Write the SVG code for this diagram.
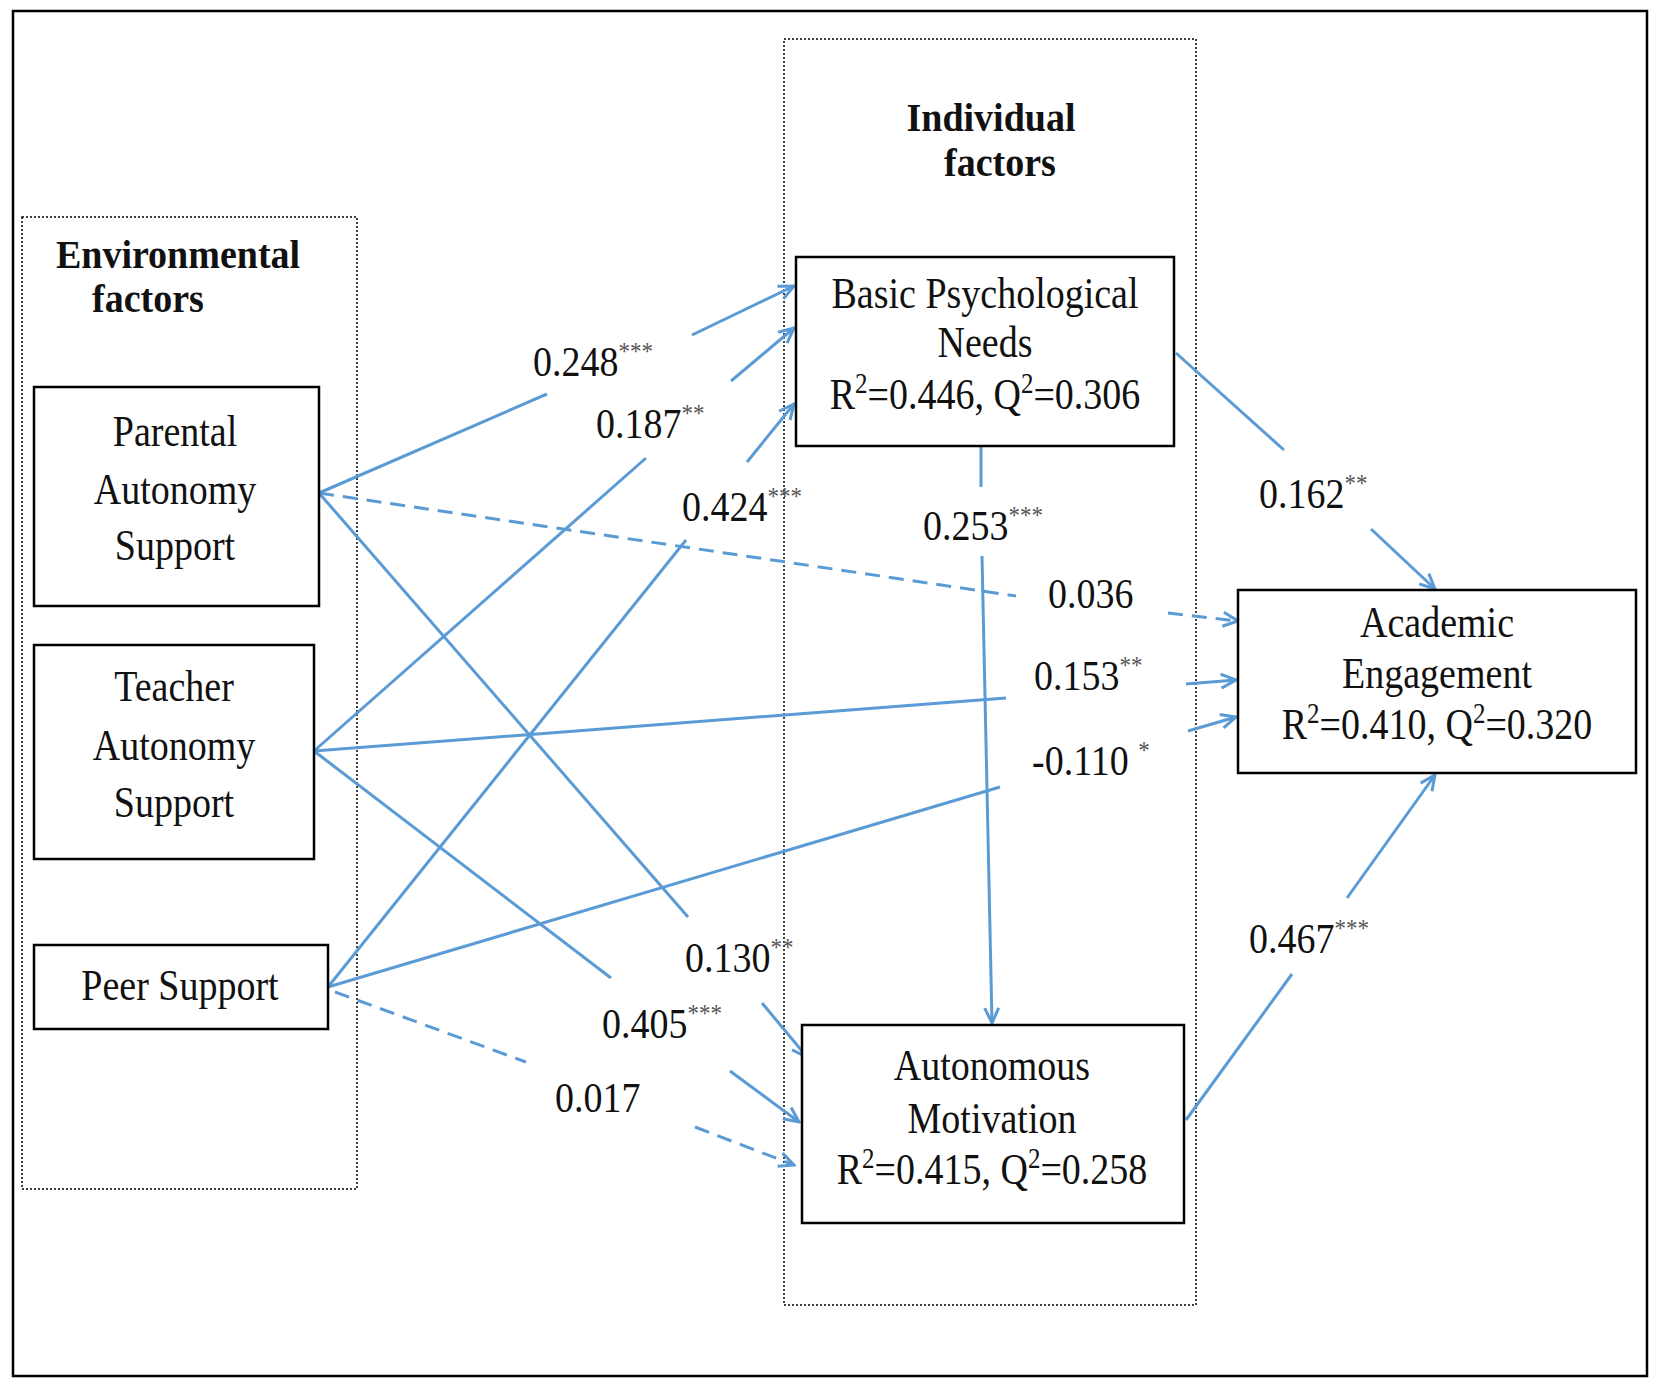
<svg xmlns="http://www.w3.org/2000/svg" width="1660" height="1385" viewBox="0 0 1660 1385">
<style>
.t{font-family:"Liberation Serif","Times New Roman",serif;font-size:38px;fill:#111}
.b{font-weight:bold}
.m{text-anchor:middle}
.sup{font-size:23px;fill:#555}
.box{fill:#fff;stroke:#000;stroke-width:2.5}
.dot{fill:none;stroke:#000;stroke-width:1.5;stroke-dasharray:2 2}
.c{fill:none;stroke:#5B9BD5;stroke-width:3}
.d{stroke-dasharray:15 9}
</style>
<defs>
<marker id="ah" viewBox="0 0 20 20" refX="18" refY="10" markerWidth="20" markerHeight="20" markerUnits="userSpaceOnUse" orient="auto">
<path d="M3,3 L18,10 L3,17" fill="none" stroke="#5B9BD5" stroke-width="3"/>
</marker>
</defs>
<rect width="1660" height="1385" fill="#fff"/>
<rect x="13" y="11" width="1634" height="1365" fill="none" stroke="#000" stroke-width="2.5"/>
<g id="env-group">
<rect class="dot" x="22" y="217" width="335" height="972"/>
<text class="t b m" transform="translate(178 268) scale(1 1.05)">Environmental</text>
<text class="t b m" transform="translate(148 312) scale(1 1.05)">factors</text>
</g>
<g id="ind-group">
<rect class="dot" x="784" y="39" width="412" height="1266"/>
<text class="t b m" transform="translate(991 131) scale(1 1.05)">Individual</text>
<text class="t b m" transform="translate(1000 176) scale(1 1.05)">factors</text>
</g>
<g id="connectors">
<line class="c" x1="319" y1="493" x2="547" y2="394"/>
<line class="c" x1="692" y1="335" x2="794" y2="286" marker-end="url(#ah)"/>
<line class="c" x1="314" y1="751" x2="646" y2="458"/>
<line class="c" x1="731" y1="381" x2="794" y2="328" marker-end="url(#ah)"/>
<line class="c" x1="328" y1="987" x2="686" y2="540"/>
<line class="c" x1="747" y1="462" x2="794" y2="404" marker-end="url(#ah)"/>
<line class="c d" x1="319" y1="493" x2="1016" y2="596"/>
<line class="c d" x1="1168" y1="613" x2="1238" y2="621" marker-end="url(#ah)"/>
<line class="c" x1="314" y1="751" x2="1006" y2="698"/>
<line class="c" x1="1186" y1="684" x2="1236" y2="680" marker-end="url(#ah)"/>
<line class="c" x1="328" y1="987" x2="1000" y2="787"/>
<line class="c" x1="1188" y1="731" x2="1236" y2="717" marker-end="url(#ah)"/>
<line class="c" x1="319" y1="493" x2="688" y2="917"/>
<line class="c" x1="762" y1="1003" x2="807" y2="1057" marker-end="url(#ah)"/>
<line class="c" x1="314" y1="751" x2="611" y2="978"/>
<line class="c" x1="730" y1="1071" x2="799" y2="1122" marker-end="url(#ah)"/>
<line class="c d" x1="335" y1="992" x2="526" y2="1062"/>
<line class="c d" x1="695" y1="1127" x2="794" y2="1165" marker-end="url(#ah)"/>
<line class="c" x1="981" y1="447" x2="981" y2="487"/>
<line class="c" x1="982" y1="556" x2="992" y2="1023" marker-end="url(#ah)"/>
<line class="c" x1="1176" y1="353" x2="1284" y2="450"/>
<line class="c" x1="1371" y1="529" x2="1435" y2="589" marker-end="url(#ah)"/>
<line class="c" x1="1186" y1="1120" x2="1292" y2="974"/>
<line class="c" x1="1347" y1="898" x2="1435" y2="775" marker-end="url(#ah)"/>
<text class="t" transform="translate(533 376) scale(1 1.12)">0.248<tspan class="sup" dy="-14">***</tspan></text>
<text class="t" transform="translate(596 438) scale(1 1.12)">0.187<tspan class="sup" dy="-14">**</tspan></text>
<text class="t" transform="translate(682 521) scale(1 1.12)">0.424<tspan class="sup" dy="-14">***</tspan></text>
<text class="t" transform="translate(1048 608) scale(1 1.12)">0.036</text>
<text class="t" transform="translate(1034 690) scale(1 1.12)">0.153<tspan class="sup" dy="-14">**</tspan></text>
<text class="t" transform="translate(1032 775) scale(1 1.12)">-0.110 <tspan class="sup" dy="-14">*</tspan></text>
<text class="t" transform="translate(685 972) scale(1 1.12)">0.130<tspan class="sup" dy="-14">**</tspan></text>
<text class="t" transform="translate(602 1038) scale(1 1.12)">0.405<tspan class="sup" dy="-14">***</tspan></text>
<text class="t" transform="translate(555 1112) scale(1 1.12)">0.017</text>
<text class="t" transform="translate(923 540) scale(1 1.12)">0.253<tspan class="sup" dy="-14">***</tspan></text>
<text class="t" transform="translate(1259 508) scale(1 1.12)">0.162<tspan class="sup" dy="-14">**</tspan></text>
<text class="t" transform="translate(1249 953) scale(1 1.12)">0.467<tspan class="sup" dy="-14">***</tspan></text>
</g>
<g id="parental">
<rect class="box" x="34" y="387" width="285" height="219"/>
<text class="t m" transform="translate(175 446) scale(1 1.14)">Parental</text>
<text class="t m" transform="translate(175 504) scale(1 1.14)">Autonomy</text>
<text class="t m" transform="translate(175 560) scale(1 1.14)">Support</text>
</g>
<g id="teacher">
<rect class="box" x="34" y="645" width="280" height="214"/>
<text class="t m" transform="translate(174 701) scale(1 1.14)">Teacher</text>
<text class="t m" transform="translate(174 760) scale(1 1.14)">Autonomy</text>
<text class="t m" transform="translate(174 817) scale(1 1.14)">Support</text>
</g>
<g id="peer">
<rect class="box" x="34" y="945" width="294" height="84"/>
<text class="t m" transform="translate(180 1000) scale(1 1.14)">Peer Support</text>
</g>
<g id="bpn">
<rect class="box" x="796" y="257" width="378" height="189"/>
<text class="t m" transform="translate(985 308) scale(1 1.14)">Basic Psychological</text>
<text class="t m" transform="translate(985 357) scale(1 1.14)">Needs</text>
<text class="t m" transform="translate(985 409) scale(1 1.14)">R<tspan font-size="25" dy="-14">2</tspan><tspan dy="14">=0.446, Q</tspan><tspan font-size="25" dy="-14">2</tspan><tspan dy="14">=0.306</tspan></text>
</g>
<g id="am">
<rect class="box" x="802" y="1025" width="382" height="198"/>
<text class="t m" transform="translate(992 1080) scale(1 1.14)">Autonomous</text>
<text class="t m" transform="translate(992 1133) scale(1 1.14)">Motivation</text>
<text class="t m" transform="translate(992 1184) scale(1 1.14)">R<tspan font-size="25" dy="-14">2</tspan><tspan dy="14">=0.415, Q</tspan><tspan font-size="25" dy="-14">2</tspan><tspan dy="14">=0.258</tspan></text>
</g>
<g id="ae">
<rect class="box" x="1238" y="590" width="398" height="183"/>
<text class="t m" transform="translate(1437 637) scale(1 1.14)">Academic</text>
<text class="t m" transform="translate(1437 688) scale(1 1.14)">Engagement</text>
<text class="t m" transform="translate(1437 739) scale(1 1.14)">R<tspan font-size="25" dy="-14">2</tspan><tspan dy="14">=0.410, Q</tspan><tspan font-size="25" dy="-14">2</tspan><tspan dy="14">=0.320</tspan></text>
</g>
</svg>
